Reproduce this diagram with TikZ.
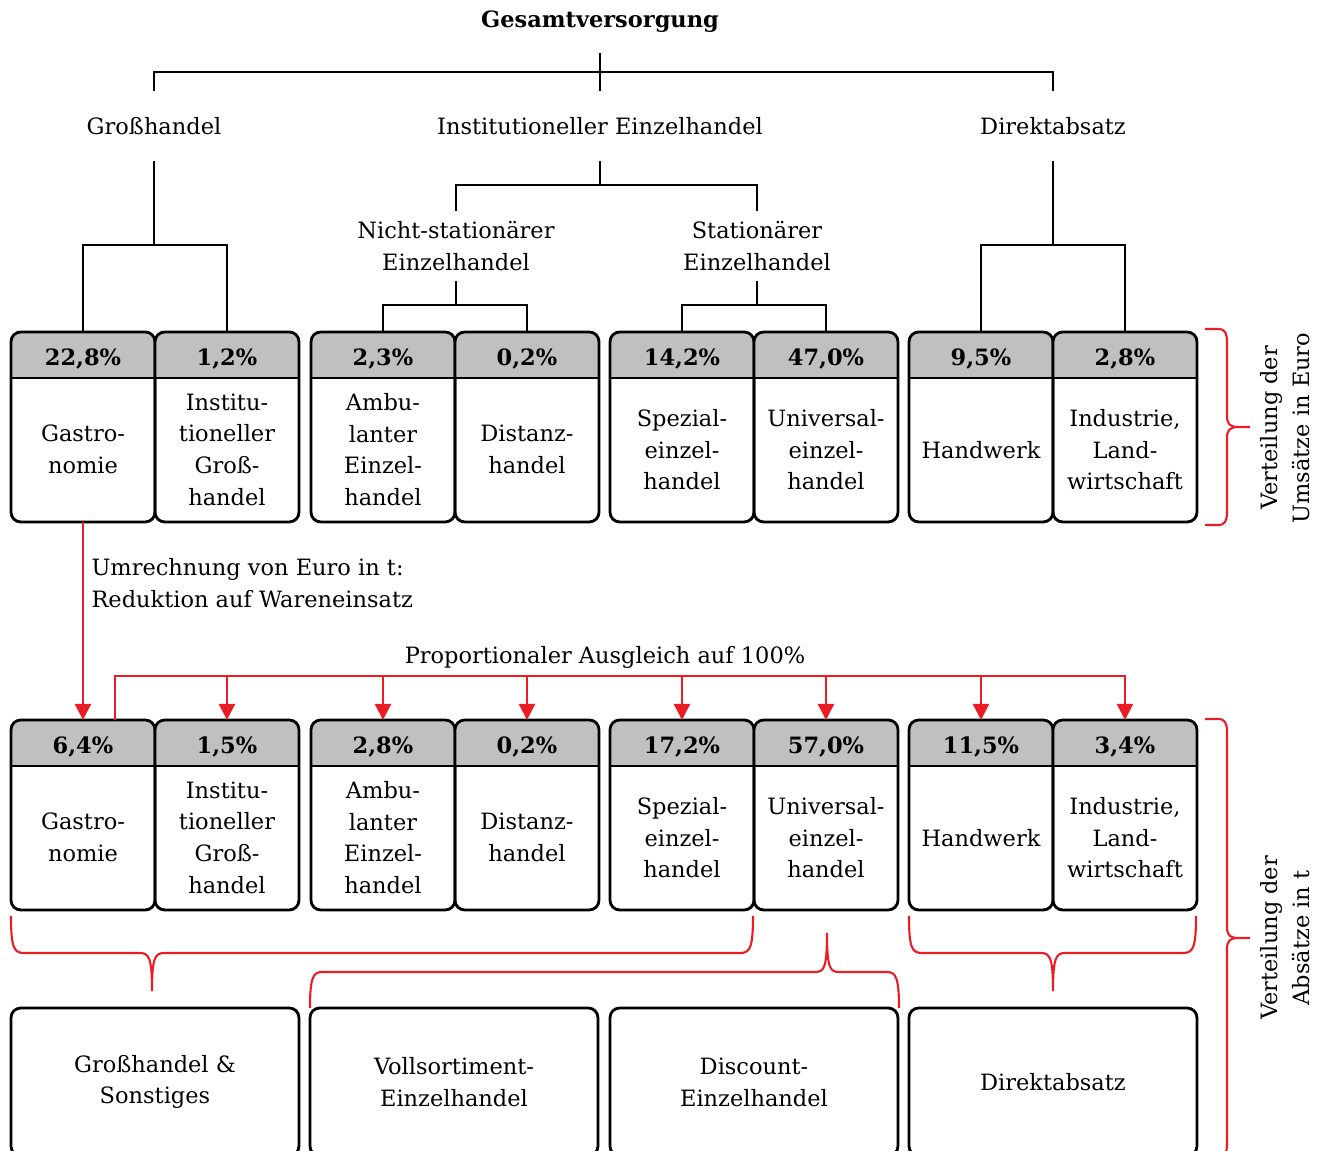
\documentclass[tikz,border=0pt]{standalone}
\usepackage{fontspec}
\setmainfont{DejaVu Serif}
\usepackage{tikz}
\usetikzlibrary{arrows.meta}
\definecolor{headgray}{RGB}{192,192,192}
\definecolor{markred}{RGB}{236,28,36}
\tikzstyle{shop} = [rectangle, draw=black, line width=1.6pt, rounded corners=5.5pt, minimum width=2.88cm, minimum height=3.8cm, outer sep=0pt, anchor=north west,
    path picture={\fill[headgray, sharp corners] (path picture bounding box.north west) rectangle ([yshift=-0.92cm]path picture bounding box.north east);
                  \draw[line width=1.6pt, sharp corners] ([yshift=-0.92cm]path picture bounding box.north west) -- ([yshift=-0.92cm]path picture bounding box.north east);}]
\tikzstyle{pct} = [anchor=north, minimum height=0.92cm, inner sep=0pt, yshift=-0.08cm, font=\bfseries]
\tikzstyle{body} = [anchor=south, minimum height=2.88cm, inner sep=0pt, align=center]
\tikzstyle{outlet} = [rectangle, draw=black, line width=1.6pt, rounded corners=5.5pt, minimum width=5.76cm, minimum height=2.96cm, outer sep=0pt, anchor=north west, align=center]
\tikzstyle{tree label} = [minimum height=1.38cm, inner sep=0pt, align=center]
\tikzstyle{tree} = [draw=black, line width=1.3pt]
\tikzstyle{conv} = [draw=markred, line width=1.2pt, -{Triangle[length=0.32cm, width=0.32cm]}]
\tikzstyle{bracket} = [draw=markred, line width=1.2pt]

\begin{document}
\begin{tikzpicture}[x=0.02cm, y=-0.02cm, execute at begin picture={\fontsize{12.8}{18.1}\selectfont}]

        \useasboundingbox (0,0) rectangle (1323,1151);

        % tree
        \node[tree label, minimum height=1.24cm, font=\bfseries] (gesamt) at (600,22) {Gesamtversorgung};
        \node[tree label] (gross) at (154,126) {Großhandel};
        \node[tree label] (inst) at (600,126) {Institutioneller Einzelhandel};
        \node[tree label] (direkt) at (1053,126) {Direktabsatz};
        \node[tree label] (nst) at (456,246) {Nicht-stationärer\\Einzelhandel};
        \node[tree label] (st) at (757,246) {Stationärer\\Einzelhandel};

        % Umsaetze in Euro
        \node[shop] (eu1) at (11,332) {};
        \node[pct] (eu1p) at (eu1.north) {22,8\%};
        \node[body] (eu1b) at (eu1.south) {Gastro-\\nomie};
        \node[shop] (eu2) at (155,332) {};
        \node[pct] (eu2p) at (eu2.north) {1,2\%};
        \node[body] (eu2b) at (eu2.south) {Institu-\\tioneller\\Groß-\\handel};
        \node[shop] (eu3) at (311,332) {};
        \node[pct] (eu3p) at (eu3.north) {2,3\%};
        \node[body] (eu3b) at (eu3.south) {Ambu-\\lanter\\Einzel-\\handel};
        \node[shop] (eu4) at (455,332) {};
        \node[pct] (eu4p) at (eu4.north) {0,2\%};
        \node[body] (eu4b) at (eu4.south) {Distanz-\\handel};
        \node[shop] (eu5) at (610,332) {};
        \node[pct] (eu5p) at (eu5.north) {14,2\%};
        \node[body] (eu5b) at (eu5.south) {Spezial-\\einzel-\\handel};
        \node[shop] (eu6) at (754,332) {};
        \node[pct] (eu6p) at (eu6.north) {47,0\%};
        \node[body] (eu6b) at (eu6.south) {Universal-\\einzel-\\handel};
        \node[shop] (eu7) at (909,332) {};
        \node[pct] (eu7p) at (eu7.north) {9,5\%};
        \node[body] (eu7b) at (eu7.south) {Handwerk};
        \node[shop] (eu8) at (1053,332) {};
        \node[pct] (eu8p) at (eu8.north) {2,8\%};
        \node[body] (eu8b) at (eu8.south) {Industrie,\\Land-\\wirtschaft};

        \draw[tree] (gesamt.south) -- (inst.north);
        \draw[tree] (gross.north) -- ++(0,-19) -| (direkt.north);
        \draw[tree] (inst.south) -- ++(0,25);
        \draw[tree] (nst.north) -- ++(0,-26) -| (st.north);
        \draw[tree] (gross.south) -- ++(0,85);
        \draw[tree] (eu1.north) -- ++(0,-87) -| (eu2.north);
        \draw[tree] (nst.south) -- ++(0,25);
        \draw[tree] (eu3.north) -- ++(0,-27) -| (eu4.north);
        \draw[tree] (st.south) -- ++(0,25);
        \draw[tree] (eu5.north) -- ++(0,-27) -| (eu6.north);
        \draw[tree] (direkt.south) -- ++(0,85);
        \draw[tree] (eu7.north) -- ++(0,-87) -| (eu8.north);

        % Absaetze in t
        \node[shop] (t1) at (11,720) {};
        \node[pct] (t1p) at (t1.north) {6,4\%};
        \node[body] (t1b) at (t1.south) {Gastro-\\nomie};
        \node[shop] (t2) at (155,720) {};
        \node[pct] (t2p) at (t2.north) {1,5\%};
        \node[body] (t2b) at (t2.south) {Institu-\\tioneller\\Groß-\\handel};
        \node[shop] (t3) at (311,720) {};
        \node[pct] (t3p) at (t3.north) {2,8\%};
        \node[body] (t3b) at (t3.south) {Ambu-\\lanter\\Einzel-\\handel};
        \node[shop] (t4) at (455,720) {};
        \node[pct] (t4p) at (t4.north) {0,2\%};
        \node[body] (t4b) at (t4.south) {Distanz-\\handel};
        \node[shop] (t5) at (610,720) {};
        \node[pct] (t5p) at (t5.north) {17,2\%};
        \node[body] (t5b) at (t5.south) {Spezial-\\einzel-\\handel};
        \node[shop] (t6) at (754,720) {};
        \node[pct] (t6p) at (t6.north) {57,0\%};
        \node[body] (t6b) at (t6.south) {Universal-\\einzel-\\handel};
        \node[shop] (t7) at (909,720) {};
        \node[pct] (t7p) at (t7.north) {11,5\%};
        \node[body] (t7b) at (t7.south) {Handwerk};
        \node[shop] (t8) at (1053,720) {};
        \node[pct] (t8p) at (t8.north) {3,4\%};
        \node[body] (t8b) at (t8.south) {Industrie,\\Land-\\wirtschaft};

        % conversion
        \draw[conv] (eu1.south) -- node[pos=0.31, right, align=left, text=black] (umr) {Umrechnung von Euro in t:\\Reduktion auf Wareneinsatz} (t1.north);
        \node[anchor=base] (ausgl) at (605,664) {Proportionaler Ausgleich auf 100\%};
        \draw[conv] ([xshift=0.64cm]t1.north) -- ++(0,-44) -| (t8.north);
        \foreach \i in {2,...,7}
            \draw[conv] ([yshift=0.88cm]t\i.north) -- (t\i.north);

        % sales channels
        \node[outlet] (b1) at (11,1008) {Großhandel \&\\Sonstiges};
        \node[outlet] (b2) at (310,1008) {Vollsortiment-\\Einzelhandel};
        \node[outlet] (b3) at (610,1008) {Discount-\\Einzelhandel};
        \node[outlet] (b4) at (909,1008) {Direktabsatz};

        % braces
        \draw[bracket] (1205,329) -- (1218,329) .. controls (1225,329) and (1227,333) .. (1227,342) -- (1227,416)
            .. controls (1227,424) and (1230,427) .. (1238,427) -- (1250,427) -- (1238,427)
            .. controls (1230,427) and (1227,430) .. (1227,438) -- (1227,512) .. controls (1227,521) and (1225,525) .. (1218,525) -- (1205,525);
        \draw[bracket] (1205,719) -- (1218,719) .. controls (1225,719) and (1227,723) .. (1227,732) -- (1227,927)
            .. controls (1227,935) and (1230,938) .. (1238,938) -- (1250,938) -- (1238,938)
            .. controls (1230,938) and (1227,941) .. (1227,949) -- (1227,1144) .. controls (1227,1153) and (1225,1157) .. (1218,1157) -- (1205,1157);
        \draw[bracket] (t1.south west) ++(0,6) .. controls (11,948) and (14,953) .. (24,953) -- (140,953)
            .. controls (149,953) and (152,958) .. (152,991) .. controls (152,958) and (155,953) .. (164,953) -- (740,953)
            .. controls (750,953) and (753,948) .. (753,916);
        \draw[bracket] (t7.south west) ++(0,6) .. controls (909,948) and (912,953) .. (922,953) -- (1041,953)
            .. controls (1050,953) and (1053,958) .. (1053,991) .. controls (1053,958) and (1056,953) .. (1065,953) -- (1183,953)
            .. controls (1193,953) and (1196,948) .. (1196,916);
        \draw[bracket] (b2.north west) .. controls (310,978) and (313,972) .. (322,972) -- (815,972)
            .. controls (824,972) and (827,968) .. (827,933) .. controls (827,968) and (830,972) .. (839,972) -- (887,972)
            .. controls (896,972) and (899,978) .. (899,1008);

        \node[rotate=90, align=center] (vumsatz) at (1285,428) {Verteilung der\\Umsätze in Euro};
        \node[rotate=90, align=center] (vabsatz) at (1285,938) {Verteilung der\\Absätze in t};

    \end{tikzpicture}
\end{document}
